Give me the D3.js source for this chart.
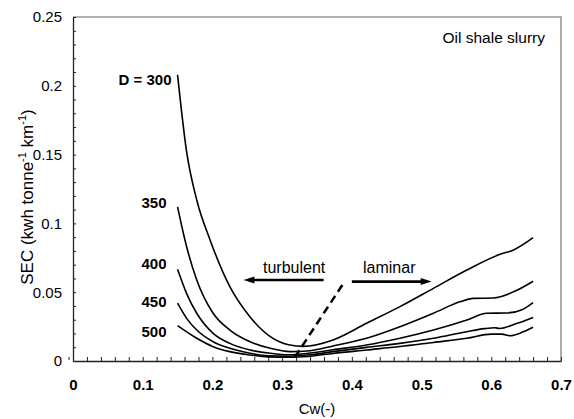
<!DOCTYPE html>
<html><head><meta charset="utf-8">
<script src="https://cdn.jsdelivr.net/npm/d3@7"></script>
<style>body{margin:0;background:#fff}svg{display:block}text{font-family:Arial,"Liberation Sans",sans-serif}</style>
</head><body>
<svg id="c" width="574" height="419"></svg>
<script>
// ---- data ----
const xTickLabels = ["0","0.1","0.2","0.3","0.4","0.5","0.6","0.7"];
const xTickValues = [0,0.1,0.2,0.3,0.4,0.5,0.6,0.7];
const yTickLabels = ["0","0.05","0.1","0.15","0.2","0.25"];
const yTickValues = [0,0.05,0.1,0.15,0.2,0.25];
const seriesNames = ["D = 300","350","400","450","500"];
const d300 = [[0.15,0.208],[0.163,0.152],[0.1775,0.117],[0.1966,0.088],[0.225,0.054],[0.254,0.032],[0.283,0.0177],[0.311,0.0116],[0.33,0.0106],[0.373,0.0153],[0.421,0.0274],[0.469,0.0395],[0.517,0.0528],[0.565,0.0661],[0.6126,0.0775],[0.632,0.0807],[0.66,0.0896]];
const d350 = [[0.15,0.112],[0.163,0.083],[0.1775,0.0589],[0.201,0.0347],[0.225,0.0225],[0.254,0.014],[0.283,0.0092],[0.311,0.0068],[0.34,0.0075],[0.373,0.0109],[0.421,0.0165],[0.469,0.0249],[0.517,0.0347],[0.555,0.043],[0.574,0.0455],[0.603,0.0458],[0.635,0.051],[0.66,0.058]];
const d400 = [[0.15,0.0666],[0.163,0.049],[0.1775,0.0347],[0.201,0.0201],[0.225,0.0128],[0.254,0.008],[0.283,0.0056],[0.31,0.0045],[0.34,0.0058],[0.373,0.0082],[0.421,0.0116],[0.469,0.0165],[0.517,0.0225],[0.565,0.0298],[0.5935,0.0347],[0.622,0.0349],[0.645,0.0375],[0.66,0.0424]];
const d450 = [[0.15,0.042],[0.163,0.031],[0.1775,0.0225],[0.201,0.014],[0.225,0.0092],[0.254,0.0056],[0.28,0.0038],[0.31,0.0035],[0.34,0.0045],[0.373,0.0068],[0.421,0.0099],[0.469,0.0128],[0.517,0.0165],[0.565,0.0213],[0.59,0.0235],[0.605,0.0242],[0.612,0.0236],[0.635,0.027],[0.66,0.0317]];
const d500 = [[0.15,0.0257],[0.1775,0.0165],[0.201,0.0104],[0.225,0.0068],[0.254,0.0044],[0.28,0.003],[0.31,0.0027],[0.34,0.0035],[0.373,0.0055],[0.421,0.008],[0.469,0.0105],[0.517,0.0135],[0.565,0.0165],[0.6,0.0195],[0.615,0.0195],[0.627,0.0184],[0.645,0.021],[0.66,0.0245]];
const series = [d300,d350,d400,d450,d500];
const labelAt = [0.208,0.112,0.0666,0.042,0.0257];
const boundary = [[0.3185,0.003],[0.388,0.0565]];
const turbArrow = [[0.3595,0.0589],[0.2445,0.0589]];
const lamArrow = [[0.400,0.0577],[0.5145,0.0577]];

// ---- layout ----
const svg = d3.select("#c");
const L=73,R=561,T=17,B=361;
const x = d3.scaleLinear().domain([0,0.7]).range([L,R]);
const y = d3.scaleLinear().domain([0,0.25]).range([B,T]);

// frame top/right grey
svg.append("path").attr("d",`M${L},${T}H${R}V${B}`).attr("fill","none").attr("stroke","#999").attr("stroke-width",1.6);

// minor ticks
const xMinor = d3.range(0,0.7001,0.02);
const yMinor = d3.range(0,0.2501,0.01);
const gx = svg.append("g").attr("transform",`translate(0,${B})`)
  .call(d3.axisBottom(x).tickValues(xMinor).tickSize(-4).tickFormat("").tickSizeOuter(0));
const gy = svg.append("g").attr("transform",`translate(${L},0)`)
  .call(d3.axisLeft(y).tickValues(yMinor).tickSize(-3).tickFormat("").tickSizeOuter(0));
[gx,gy].forEach(g=>{g.select(".domain").attr("stroke","#222").attr("stroke-width",1.3);g.selectAll(".tick line").attr("stroke","#222").attr("stroke-width",1);});

// labels
const gxl = svg.append("g").attr("transform",`translate(0,${B})`)
  .call(d3.axisBottom(x).tickValues(xTickValues).tickSize(0).tickPadding(18).tickFormat((d,i)=>xTickLabels[i]));
gxl.select(".domain").remove();
gxl.selectAll("text").attr("font-size",15).attr("font-weight","bold").attr("fill","#000").attr("font-family","Arial, Liberation Sans, sans-serif");
const gyl = svg.append("g").attr("transform",`translate(${L},0)`)
  .call(d3.axisLeft(y).tickValues(yTickValues).tickSize(0).tickPadding(11).tickFormat((d,i)=>yTickLabels[i]));
gyl.select(".domain").remove();
gyl.selectAll("text").attr("font-size",15).attr("fill","#000").attr("font-family","Arial, Liberation Sans, sans-serif");
// small mark next to y zero label
svg.append("line").attr("x1",L-4).attr("x2",L-4).attr("y1",B-4).attr("y2",B-1).attr("stroke","#222").attr("stroke-width",1);

// axis titles
svg.append("text").attr("x",(L+R)/2).attr("y",414).attr("text-anchor","middle").attr("font-size",15).text("Cw(-)");
const yt = svg.append("text").attr("transform",`translate(33,197) rotate(-90)`).attr("text-anchor","middle").attr("font-size",17);
yt.append("tspan").text("SEC (kwh tonne");
yt.append("tspan").attr("font-size",11).attr("dy",-7).text("-1");
yt.append("tspan").attr("dy",7).text(" km");
yt.append("tspan").attr("font-size",11).attr("dy",-7).text("-1");
yt.append("tspan").attr("dy",7).text(")");

// curves
const line = d3.line().x(d=>x(d[0])).y(d=>y(d[1])).curve(d3.curveMonotoneX);
svg.append("g").selectAll("path").data(series).join("path")
  .attr("d",line).attr("fill","none").attr("stroke","#000").attr("stroke-width",1.6);

// series labels
svg.append("g").selectAll("text").data(seriesNames).join("text")
  .attr("x",(d,i)=> i===0 ? x(0.15)-6 : x(0.15)-11)
  .attr("y",(d,i)=> y(labelAt[i]) + (i===0?10:[0,1.5,0,3.5,11][i]))
  .attr("text-anchor","end").attr("font-size",15).attr("font-weight","bold").text(d=>d);

// boundary dashed line
svg.append("path").attr("d",d3.line().x(d=>x(d[0])).y(d=>y(d[1]))(boundary))
  .attr("stroke","#000").attr("stroke-width",2.5).attr("stroke-dasharray","8,5").attr("fill","none");

// arrows
function arrow(pts){
  const x1=x(pts[0][0]),y1=y(pts[0][1]),x2=x(pts[1][0]),y2=y(pts[1][1]);
  const dir=Math.sign(x2-x1);
  svg.append("line").attr("x1",x1).attr("y1",y1).attr("x2",x2-dir*8).attr("y2",y2).attr("stroke","#000").attr("stroke-width",2.6);
  svg.append("path").attr("d",`M${x2},${y2}L${x2-dir*11},${y2-3.5}L${x2-dir*11},${y2+3.5}Z`).attr("fill","#000");
}
arrow(turbArrow); arrow(lamArrow);
svg.append("text").attr("x",263).attr("y",273).attr("font-size",16).text("turbulent");
svg.append("text").attr("x",363).attr("y",273).attr("font-size",16).text("laminar");
svg.append("text").attr("x",545).attr("y",43).attr("text-anchor","end").attr("font-size",15.5).text("Oil shale slurry");
</script>
</body></html>
